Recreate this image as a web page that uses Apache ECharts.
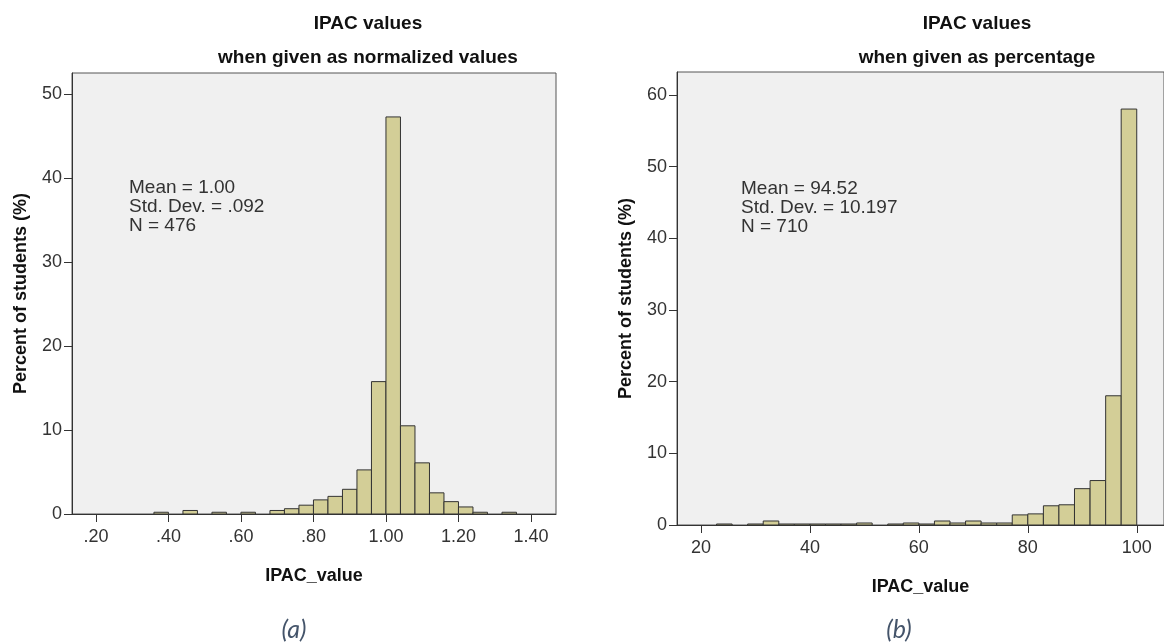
<!DOCTYPE html>
<html>
<head>
<meta charset="utf-8">
<script src="https://cdn.jsdelivr.net/npm/echarts@6/dist/echarts.min.js"></script>
<style>
html,body{margin:0;padding:0;background:#fff;}
#chart{width:1164px;height:644px;}
</style>
</head>
<body>
<div id="chart"></div>
<script>
// ---------- Data: panel (a) normalized values ----------
const binStartA = [0.36,0.40,0.44,0.48,0.52,0.56,0.60,0.64,0.68,0.72,0.76,0.80,0.84,0.88,0.92,0.96,1.00,1.04,1.08,1.12,1.16,1.20,1.24,1.28,1.32];
const percentA  = [0.21,0,   0.42,0,   0.21,0,   0.21,0,   0.42,0.63,1.05,1.68,2.10,2.94,5.25,15.76,47.27,10.50,6.09,2.52,1.47,0.84,0.21,0,0.21];
const binWidthA = 0.04;
const xTickValuesA = [0.2,0.4,0.6,0.8,1.0,1.2,1.4];
const xTickLabelsA = ['.20','.40','.60','.80','1.00','1.20','1.40'];
const yTickValuesA = [0,10,20,30,40,50];
const statsA = ['Mean = 1.00','Std. Dev. = .092','N = 476'];

// ---------- Data: panel (b) percentage ----------
const binStartB = [22.86,25.71,28.57,31.43,34.29,37.14,40.00,42.86,45.71,48.57,51.43,54.29,57.14,60.00,62.86,65.71,68.57,71.43,74.29,77.14,80.00,82.86,85.71,88.57,91.43,94.29,97.14];
const percentB  = [0.14, 0,    0.14, 0.56, 0.14, 0.14, 0.14, 0.14, 0.14, 0.28, 0,    0.14, 0.28, 0.14, 0.56, 0.28, 0.56, 0.28, 0.28, 1.41, 1.55, 2.68, 2.82, 5.07, 6.20, 18.03, 58.03];
const binWidthB = 2.857;
const xTickValuesB = [20,40,60,80,100];
const xTickLabelsB = ['20','40','60','80','100'];
const yTickValuesB = [0,10,20,30,40,50,60];
const statsB = ['Mean = 94.52','Std. Dev. = 10.197','N = 710'];

const titleMain = 'IPAC values';
const subTitleA = 'when given as normalized values';
const subTitleB = 'when given as percentage';
const xName = 'IPAC_value';
const yName = 'Percent of students (%)';
const captionA = '(a)';
const captionB = '(b)';

// ---------- Chart ----------
const FONT = '"Liberation Sans", Arial, sans-serif';
const BAR_FILL = '#d3ce97';
const chart = echarts.init(document.getElementById('chart'), null, {renderer:'canvas'});

function barItem(params, api){
  const x0 = api.value(0), x1 = api.value(1), h = api.value(2);
  if (!h) return null;
  const p0 = api.coord([x0, 0]);
  const p1 = api.coord([x1, h]);
  return {
    type:'rect',
    shape:{x:p0[0], y:p1[1], width:p1[0]-p0[0], height:p0[1]-p1[1]},
    style:{fill:BAR_FILL, stroke:'#333', lineWidth:1}
  };
}

function labelFrom(values, labels){
  return function(v){
    const i = values.findIndex(t => Math.abs(t - v) < 1e-6);
    return i >= 0 ? labels[i] : '';
  };
}

const axisLineStyle = {show:true, lineStyle:{color:'#333', width:1}};
const tickLabelStyle = {color:'#333', fontSize:18, fontFamily:FONT};
const nameStyle = {color:'#111', fontSize:18, fontWeight:'bold', fontFamily:FONT};

function xAxisDef(gridIndex, min, max, vals, labels){
  return {
    type:'value', gridIndex, min, max,
    axisLine:axisLineStyle,
    axisTick:{show:true, inside:false, length:8, lineStyle:{color:'#333'}, customValues:vals},
    axisLabel:Object.assign({margin:14, customValues:vals, formatter:labelFrom(vals, labels)}, tickLabelStyle),
    splitLine:{show:false},
    name:xName, nameLocation:'middle', nameGap:53, nameTextStyle:nameStyle
  };
}
function yAxisDef(gridIndex, max, vals){
  return {
    type:'value', gridIndex, min:0, max,
    axisLine:axisLineStyle,
    axisTick:{show:true, inside:false, length:8, lineStyle:{color:'#333'}, customValues:vals},
    axisLabel:Object.assign({margin:10, customValues:vals, formatter:function(v){return String(v);}}, tickLabelStyle),
    splitLine:{show:false},
    name:yName, nameLocation:'middle', nameGap:42, nameRotate:90, nameTextStyle:nameStyle
  };
}

function textEl(text, x, y, opts){
  return {
    type:'text', x, y, silent:true,
    style:Object.assign({text, fontFamily:FONT, fontSize:19, fill:'#333', align:'left', verticalAlign:'middle'}, opts||{})
  };
}

const captionStyle = {fontFamily:'Lato, "Open Sans", sans-serif', fontStyle:'italic', fontSize:25, fill:'#44546a', align:'center'};
const graphics = [
  textEl(titleMain, 368, 24, {fontWeight:'bold', fill:'#111', align:'center'}),
  textEl(subTitleA, 368, 58, {fontWeight:'bold', fill:'#111', align:'center'}),
  textEl(titleMain, 977, 24, {fontWeight:'bold', fill:'#111', align:'center'}),
  textEl(subTitleB, 977, 58, {fontWeight:'bold', fill:'#111', align:'center'}),
  textEl(captionA, 294, 630, captionStyle),
  textEl(captionB, 899, 630, captionStyle)
];
statsA.forEach((s,i) => graphics.push(textEl(s, 129, 188 + i*19)));
statsB.forEach((s,i) => graphics.push(textEl(s, 741, 189 + i*19)));

const option = {
  animation:false,
  backgroundColor:'#ffffff',
  grid:[
    {left:72, top:73, width:484, height:441, show:true, backgroundColor:'#f0f0f0', borderColor:'#555', borderWidth:1},
    {left:677, top:72, width:493, height:453, show:true, backgroundColor:'#f0f0f0', borderColor:'#555', borderWidth:1}
  ],
  xAxis:[
    xAxisDef(0, 0.134, 1.469, xTickValuesA, xTickLabelsA),
    xAxisDef(1, 15.6, 105, xTickValuesB, xTickLabelsB)
  ],
  yAxis:[
    yAxisDef(0, 52.5, yTickValuesA),
    yAxisDef(1, 63.2, yTickValuesB)
  ],
  series:[
    {type:'custom', xAxisIndex:0, yAxisIndex:0, renderItem:barItem, clip:true,
     encode:{x:[0,1], y:2},
     data:binStartA.map((s,i) => [s, s + binWidthA, percentA[i]])},
    {type:'custom', xAxisIndex:1, yAxisIndex:1, renderItem:barItem, clip:true,
     encode:{x:[0,1], y:2},
     data:binStartB.map((s,i) => [s, s + binWidthB, percentB[i]])}
  ],
  graphic:graphics
};
chart.setOption(option);
</script>
</body>
</html>
